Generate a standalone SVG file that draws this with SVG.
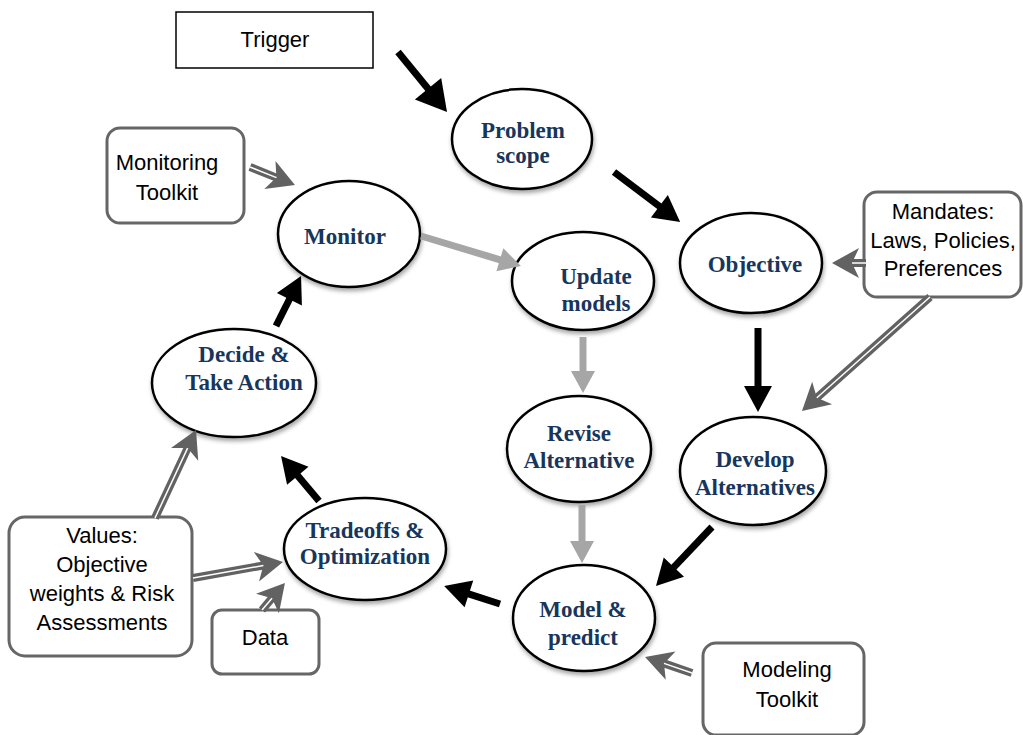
<svg xmlns="http://www.w3.org/2000/svg" width="1023" height="735" viewBox="0 0 1023 735">
<style>
.ell{fill:#fff;stroke:#000;stroke-width:2.5;filter:url(#sh)}
.lbl{font-family:"Liberation Serif","Times New Roman",serif;font-weight:bold;font-size:23px;fill:#17365d;text-anchor:middle}
.box{fill:#fff;stroke:#666;stroke-width:3}
.btxt{font-family:"Liberation Sans",Arial,sans-serif;font-size:22px;fill:#000;text-anchor:middle}
.blk{fill:none;stroke:#000;stroke-width:7;marker-end:url(#hb)}
.gry{fill:none;stroke:#a6a6a6;stroke-width:7;marker-end:url(#hg)}
.dbl{fill:none;stroke:#626262;stroke-width:8;marker-end:url(#hd)}
.dblin{fill:none;stroke:#fff;stroke-width:1.5}
</style>
<defs>
<filter id="sh" x="-20%" y="-20%" width="140%" height="150%">
<feDropShadow dx="1" dy="3" stdDeviation="2" flood-color="#000" flood-opacity="0.35"/>
</filter>
<marker id="hb" markerUnits="userSpaceOnUse" viewBox="-2 -14 26 28" refX="0" refY="0" markerWidth="26" markerHeight="28" orient="auto" overflow="visible">
<path d="M-2,-14 L24,0 L-2,14 z" fill="#000"/>
</marker>
<marker id="hb2" markerUnits="userSpaceOnUse" viewBox="-2 -17 30 34" refX="0" refY="0" markerWidth="30" markerHeight="34" orient="auto" overflow="visible">
<path d="M-2,-17 L28,0 L-2,17 z" fill="#000"/>
</marker>
<marker id="hg" markerUnits="userSpaceOnUse" viewBox="-2 -12 22 24" refX="0" refY="0" markerWidth="22" markerHeight="24" orient="auto" overflow="visible">
<path d="M-2,-12 L20,0 L-2,12 z" fill="#a6a6a6"/>
</marker>
<marker id="hd" markerUnits="userSpaceOnUse" viewBox="-7 -15 27 30" refX="0" refY="0" markerWidth="27" markerHeight="30" orient="auto" overflow="visible">
<path d="M-7,-15 L20,0 L-7,15 L0,0 z" fill="#626262"/>
</marker>
</defs>

<g id="trigger">
<rect x="176" y="12" width="197" height="56" fill="#fff" stroke="#000" stroke-width="1.5"/>
<text class="btxt" x="275" y="47">Trigger</text>
</g>
<g id="monitoring-toolkit">
<rect class="box" x="107" y="128" width="137" height="95" rx="13"/>
<text class="btxt" x="167" y="170">Monitoring</text>
<text class="btxt" x="167" y="200">Toolkit</text>
</g>
<g id="mandates">
<rect class="box" x="864" y="192" width="157" height="105" rx="13"/>
<text class="btxt" x="943" y="219">Mandates:</text>
<text class="btxt" x="943" y="248">Laws, Policies,</text>
<text class="btxt" x="943" y="276">Preferences</text>
</g>
<g id="values">
<rect class="box" x="9" y="517" width="183" height="139" rx="16"/>
<text class="btxt" x="102" y="543">Values:</text>
<text class="btxt" x="102" y="572">Objective</text>
<text class="btxt" x="102" y="601">weights &amp; Risk</text>
<text class="btxt" x="102" y="630">Assessments</text>
</g>
<g id="data">
<rect class="box" x="212" y="610" width="107" height="64" rx="10"/>
<text class="btxt" x="265" y="645">Data</text>
</g>
<g id="modeling-toolkit">
<rect class="box" x="703" y="643" width="161" height="92" rx="13"/>
<text class="btxt" x="787" y="677">Modeling</text>
<text class="btxt" x="787" y="707">Toolkit</text>
</g>

<g id="problem-scope">
<ellipse class="ell" cx="522" cy="139" rx="70" ry="50"/>
<text class="lbl" x="523" y="138">Problem</text>
<text class="lbl" x="523" y="163">scope</text>
</g>
<g id="monitor">
<ellipse class="ell" cx="349" cy="234" rx="71" ry="53"/>
<text class="lbl" x="345" y="244">Monitor</text>
</g>
<g id="update-models">
<ellipse class="ell" cx="583" cy="281" rx="71" ry="49"/>
<text class="lbl" x="596" y="284">Update</text>
<text class="lbl" x="596" y="311">models</text>
</g>
<g id="objective">
<ellipse class="ell" cx="751" cy="263" rx="71" ry="50"/>
<text class="lbl" x="755" y="272">Objective</text>
</g>
<g id="decide">
<ellipse class="ell" cx="234" cy="383" rx="82" ry="54"/>
<text class="lbl" x="244" y="362">Decide &amp;</text>
<text class="lbl" x="244" y="390">Take Action</text>
</g>
<g id="revise-alternative">
<ellipse class="ell" cx="579" cy="449" rx="72" ry="53"/>
<text class="lbl" x="579" y="441">Revise</text>
<text class="lbl" x="579" y="468">Alternative</text>
</g>
<g id="develop-alternatives">
<ellipse class="ell" cx="753" cy="471" rx="73" ry="54"/>
<text class="lbl" x="755" y="467">Develop</text>
<text class="lbl" x="755" y="495">Alternatives</text>
</g>
<g id="tradeoffs">
<ellipse class="ell" cx="365" cy="549" rx="81" ry="51"/>
<text class="lbl" x="365" y="538">Tradeoffs &amp;</text>
<text class="lbl" x="365" y="564">Optimization</text>
</g>
<g id="model-predict">
<ellipse class="ell" cx="584" cy="618" rx="71" ry="53"/>
<text class="lbl" x="583" y="617">Model &amp;</text>
<text class="lbl" x="583" y="645">predict</text>
</g>

<g id="connectors">
<path class="blk" d="M398,52 L429.3,90.3" style="marker-end:url(#hb2)"/>
<path class="blk" d="M614,172 L661,207.5"/>
<path class="blk" d="M758,328 L758,388"/>
<path class="blk" d="M712,527 L672.5,568.6"/>
<path class="blk" d="M500,604 L467,593.3"/>
<path class="blk" d="M319,501 L296.5,474.3"/>
<path class="blk" d="M276,326 L290.3,297.5"/>

<path class="gry" d="M421,236 L501.8,260.3"/>
<path class="gry" d="M583,337 L583,373"/>
<path class="gry" d="M582,505 L582,543"/>

<path class="dbl" d="M250,167 L276.4,177.6"/>
<path class="dblin" d="M250,167 L276.4,177.6"/>
<path class="dbl" d="M866,263 L852,263"/>
<path class="dblin" d="M866,263 L852,263"/>
<path class="dbl" d="M930,297 L816.9,397.7"/>
<path class="dblin" d="M930,297 L816.9,397.7"/>
<path class="dbl" d="M155,518 L187.6,448.1"/>
<path class="dblin" d="M155,518 L187.6,448.1"/>
<path class="dbl" d="M193,578 L263.3,565.5"/>
<path class="dblin" d="M193,578 L263.3,565.5"/>
<path class="dbl" d="M262,610 L272,598.2"/>
<path class="dblin" d="M262,610 L272,598.2"/>
<path class="dbl" d="M692,673 L664,663.4"/>
<path class="dblin" d="M692,673 L664,663.4"/>
</g>
</svg>
